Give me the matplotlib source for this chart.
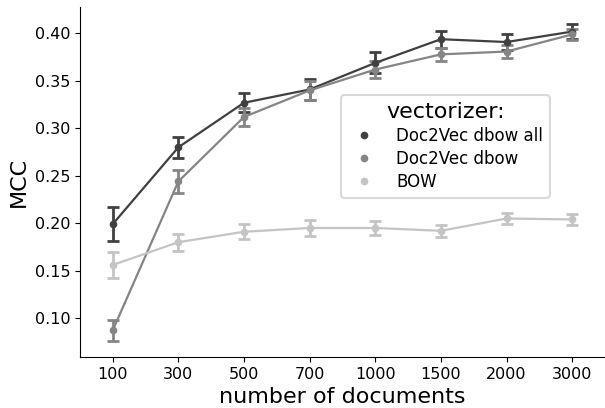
import numpy as np
import matplotlib
matplotlib.use("Agg")
import matplotlib.pyplot as plt
from matplotlib.lines import Line2D

# data
n_docs = ["100", "300", "500", "700", "1000", "1500", "2000", "3000"]

dbow_all = [0.199, 0.280, 0.327, 0.341, 0.369, 0.394, 0.391, 0.402]
dbow_all_err = [0.018, 0.011, 0.010, 0.011, 0.011, 0.009, 0.008, 0.008]

dbow = [0.087, 0.244, 0.312, 0.340, 0.362, 0.378, 0.381, 0.399]
dbow_err = [0.011, 0.012, 0.009, 0.010, 0.009, 0.007, 0.007, 0.006]

bow = [0.156, 0.180, 0.191, 0.195, 0.195, 0.192, 0.205, 0.204]
bow_err = [0.014, 0.009, 0.008, 0.008, 0.007, 0.006, 0.006, 0.006]

series = [("Doc2Vec dbow all", dbow_all, dbow_all_err, "#404040"),
          ("Doc2Vec dbow", dbow, dbow_err, "#858585"),
          ("BOW", bow, bow_err, "#c4c4c4")]

fig = plt.figure(figsize=(6.05, 4.08), dpi=100)
ax = fig.add_axes([0.132, 0.125, 0.868, 0.858])

handles = []
for name, vals, err, col in series:
    ax.errorbar(n_docs, vals, yerr=err, color=col, marker="o", markersize=4.5,
                linewidth=1.6, elinewidth=2, capsize=4, capthick=2)
    handles.append(Line2D([], [], color=col, marker="o", markersize=4.5,
                          linestyle="none", label=name))

ax.set_xlim(-0.5, len(n_docs) - 0.5)
ax.set_ylim(0.059, 0.428)
ax.set_yticks([0.10, 0.15, 0.20, 0.25, 0.30, 0.35, 0.40])
ax.tick_params(labelsize=11.5)
ax.spines["top"].set_visible(False)
ax.spines["right"].set_visible(False)

ax.set_xlabel("number of documents", fontsize=16)
ax.set_ylabel("MCC", fontsize=16)

leg = ax.legend(handles=handles, title="vectorizer:", loc="center",
                bbox_to_anchor=(0.696, 0.601), fontsize=12, title_fontsize=16,
                frameon=True, handletextpad=0.9, labelspacing=0.3)
leg.get_frame().set_edgecolor("#d0d0d0")
leg.get_frame().set_linewidth(1.5)

fig.savefig("out.png", dpi=100)
